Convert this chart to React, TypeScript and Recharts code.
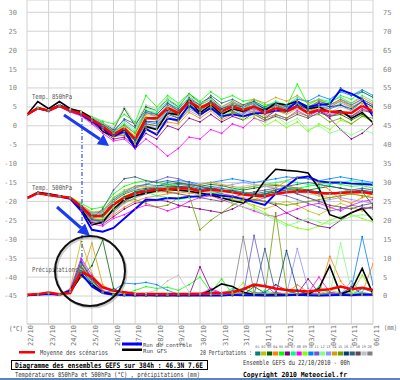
import { LineChart, Line, XAxis, YAxis, CartesianGrid } from "recharts";

// 12h steps from 22/10 00h to 07/11 00h (384h)
const dateLabels = ["22/10", "23/10", "24/10", "25/10", "26/10", "27/10", "28/10", "29/10", "30/10", "31/10", "31/10", "01/11", "02/11", "03/11", "04/11", "05/11", "06/11"];
const dayTicks = [0, 1, 2, 3, 4, 5, 6, 7, 8, 9, 10, 11, 12, 13, 14, 15, 16];
const tempTicks = [-45, -40, -35, -30, -25, -20, -15, -10, -5, 0, 5, 10, 15, 20, 25, 30];
const rainTicks = [0, 5, 10, 15, 20, 25, 30, 35, 40, 45, 50, 55, 60, 65, 70, 75];

const pertColors = ["#008080", "#c0c000", "#006400", "#ff8000", "#00ff00", "#800080", "#00ff80", "#ff00ff", "#80ff00", "#0080ff", "#6a5acd", "#80ff80", "#9090ff", "#d0a000", "#70a000", "#004070", "#306080", "#604858", "#c0c0c0", "#808080"];

// Temp 850hPa (°C)
const t850Mean = [2.9, 4.7, 4.0, 5.3, 4.0, 3.3, 1.6, -0.2, -2.4, -0.6, -3.5, 2.0, 2.0, 4.7, 3.4, 6.4, 4.7, 6.0, 3.8, 5.1, 4.2, 5.1, 3.4, 4.7, 3.8, 5.1, 3.4, 4.2, 3.8, 3.6, 3.4, 5.3, 3.8];
const t850Control = [2.9, 4.7, 4.0, 5.5, 4.2, 3.0, 1.2, -0.8, -2.8, -1.5, -5.9, -0.8, -2.4, 1.9, 1.5, 5.6, 2.9, 4.7, 2.5, 3.0, 2.5, 3.3, 3.4, 4.0, 4.2, 6.4, 5.0, 5.5, 5.8, 9.5, 8.5, 7.0, 2.5];
const t850Gfs = [2.9, 6.4, 4.5, 6.4, 4.5, 3.8, 2.0, -1.5, -2.8, -1.0, -5.5, -0.2, -1.0, 3.4, 2.9, 6.9, 3.4, 5.5, 3.0, 4.5, 3.8, 5.0, 4.0, 6.0, 5.5, 6.5, 4.5, 5.0, 3.5, 4.0, 2.0, 3.5, 0.8];
const t850Pert = [
  [2.9, 4.5, 3.8, 5.5, 4.3, 3.5, 2.0, 0.5, -1.5, 0.2, -2.0, 3.5, 3.0, 6.0, 4.5, 7.5, 5.5, 7.0, 4.5, 6.0, 5.0, 6.5, 4.0, 5.5, 4.5, 6.0, 4.0, 5.0, 4.5, 5.5, 4.0, 6.5, 5.0],
  [2.9, 4.8, 4.2, 5.0, 3.8, 3.0, 1.5, -0.5, -2.5, -1.5, -4.0, 0.5, 0.0, 3.5, 2.5, 5.0, 3.5, 5.5, 3.0, 4.5, 3.5, 4.0, 2.5, 4.0, 3.0, 4.5, 3.5, 5.0, 4.0, 3.0, 2.5, 4.5, 3.0],
  [2.9, 4.4, 4.0, 5.2, 4.2, 3.6, 2.2, 0.8, -1.0, 4.5, 0.0, 5.0, 4.0, 7.0, 5.0, 8.5, 6.0, 7.5, 5.0, 6.5, 5.0, 6.0, 4.5, 5.5, 4.0, 5.5, 3.0, 4.0, 2.5, 3.0, 1.5, 3.0, 1.0],
  [2.9, 4.6, 3.9, 5.3, 3.9, 3.2, 1.0, -1.0, -3.0, -2.0, -5.0, -1.0, -2.0, 1.0, 0.5, 3.5, 2.0, 4.0, 1.5, 3.0, 2.5, 4.0, 3.0, 5.0, 4.5, 6.5, 5.0, 6.0, 5.5, 7.0, 6.0, 7.5, 6.0],
  [2.9, 4.9, 4.1, 5.6, 4.4, 3.8, 2.4, 1.2, 0.5, 3.0, 1.0, 8.0, 5.0, 8.0, 6.0, 8.5, 6.5, 9.0, 7.0, 8.0, 6.5, 7.0, 5.5, 6.0, 5.0, 11.0, 5.5, 7.0, 6.0, 8.0, 7.0, 9.0, 7.5],
  [2.9, 4.7, 4.0, 5.1, 3.7, 2.8, 0.8, -1.5, -3.5, -3.0, -5.5, -2.0, -3.5, 0.0, -1.0, 2.0, 1.0, 3.0, 1.0, 2.5, 1.5, 3.5, 2.0, 4.0, 3.5, 5.0, 3.0, 4.0, 2.0, -1.0, -3.5, -2.0, 0.5],
  [2.9, 4.5, 4.0, 5.4, 4.1, 3.4, 1.8, 0.2, -1.8, 0.5, -1.5, 4.0, 3.5, 6.5, 5.0, 7.0, 5.0, 6.5, 4.0, 5.5, 4.5, 6.0, 5.0, 6.5, 5.5, 7.5, 6.0, 7.0, 6.5, 7.5, 6.0, 8.0, 6.5],
  [2.9, 4.6, 3.8, 5.0, 3.6, 2.6, 0.5, -2.0, -4.0, -3.5, -6.0, -3.5, -5.5, -8.0, -6.0, -3.0, -3.5, -1.0, -2.0, 0.5, -0.5, 2.0, 1.0, 3.0, 2.0, 4.0, 2.5, 4.0, 3.0, 3.5, 2.5, 4.5, 3.5],
  [2.9, 4.8, 4.1, 5.5, 4.2, 3.5, 1.9, 0.0, -2.0, -0.5, -2.5, 2.5, 1.5, 4.5, 3.0, 5.5, 4.0, 5.0, 2.5, 4.0, 1.5, 2.5, 0.0, 1.5, -0.5, 1.0, -1.5, 0.5, -1.0, 1.5, 0.5, 2.5, 1.0],
  [2.9, 4.6, 4.2, 5.3, 4.0, 3.1, 1.4, -0.5, -2.2, -1.0, -3.5, 1.0, 0.5, 3.5, 2.0, 5.0, 3.0, 4.5, 2.0, 3.5, 3.0, 5.5, 4.5, 6.0, 5.5, 7.0, 6.5, 8.0, 7.0, 9.0, 8.0, 9.5, 8.0],
  [2.9, 4.4, 3.9, 5.2, 4.0, 3.3, 1.7, 0.3, -1.2, 1.5, -0.5, 3.5, 2.5, 5.5, 4.0, 6.0, 4.5, 6.5, 4.0, 5.0, 3.5, 4.5, 3.0, 4.0, 3.5, 5.0, 4.5, 6.0, 5.0, 6.5, 5.5, 7.0, 5.5],
  [2.9, 4.7, 4.1, 5.4, 4.3, 3.7, 2.1, 0.6, -1.5, 1.0, -1.0, 4.5, 4.0, 7.5, 6.0, 8.0, 5.5, 7.0, 3.5, 5.0, 2.0, 3.5, 1.0, 2.5, 0.5, 2.0, -1.0, 0.0, -2.0, -1.0, -2.5, -1.0, -2.0],
  [2.9, 4.5, 4.0, 5.2, 3.9, 3.2, 1.5, -0.3, -2.6, -2.0, -4.5, 0.0, -0.5, 2.5, 1.5, 4.0, 2.5, 5.0, 3.0, 4.5, 3.0, 4.0, 3.5, 5.5, 5.0, 6.0, 4.5, 5.5, 4.5, 6.0, 5.0, 6.5, 5.0],
  [2.9, 4.8, 4.0, 5.3, 4.1, 3.4, 1.7, -0.1, -2.0, 0.0, -2.0, 3.0, 2.5, 5.0, 4.0, 6.5, 5.0, 6.5, 4.5, 6.0, 5.5, 7.0, 6.0, 7.5, 6.5, 8.0, 6.0, 7.0, 5.5, 6.5, 5.0, 6.0, 4.5],
  [2.9, 4.6, 3.9, 5.1, 3.8, 3.0, 1.3, -0.7, -2.8, -2.5, -4.5, -0.5, -1.0, 2.0, 1.0, 4.5, 3.0, 5.0, 2.5, 3.5, 2.5, 3.5, 2.0, 3.0, 2.0, 3.5, 2.5, 3.0, 1.0, 2.0, 0.5, 2.5, 2.0],
  [2.9, 4.7, 4.0, 5.3, 4.0, 3.3, 1.6, -0.2, -2.4, -1.2, -3.8, 1.2, 1.0, 4.0, 3.0, 6.0, 4.5, 6.5, 4.5, 5.5, 5.0, 6.0, 4.5, 5.0, 4.0, 5.5, 4.5, 6.0, 5.0, 5.5, 4.5, 6.5, 5.0],
  [2.9, 4.5, 4.1, 5.4, 4.1, 3.5, 2.0, 0.4, -1.6, 1.8, 0.5, 4.0, 3.0, 6.0, 4.0, 7.0, 5.5, 8.0, 6.0, 7.0, 5.5, 6.5, 5.0, 6.0, 5.0, 6.0, 4.5, 6.5, 5.5, 10.0, 8.0, 9.0, 7.5],
  [2.9, 4.6, 4.0, 5.2, 3.9, 3.1, 1.4, -0.6, -2.6, -1.8, -4.0, 0.5, 0.0, 3.0, 2.0, 5.0, 4.0, 6.0, 3.5, 4.0, 2.5, 3.0, 1.5, 2.5, 1.5, 3.0, 2.0, 3.5, 2.5, 3.5, 2.5, 4.0, 3.5],
  [2.9, 4.7, 4.2, 5.5, 4.4, 3.6, 2.2, 0.7, -0.5, 5.0, 0.5, 5.5, 4.5, 7.0, 5.5, 8.0, 6.0, 7.0, 5.0, 6.5, 5.0, 6.0, 4.0, 5.0, 3.5, 4.5, 3.0, 4.5, 3.5, 5.0, 4.0, 5.5, 4.0],
  [2.9, 4.6, 4.0, 5.3, 4.0, 3.2, 1.5, -0.4, -1.8, -0.8, -2.8, 2.0, 1.5, 4.5, 3.0, 6.0, 4.5, 6.0, 4.0, 5.5, 4.5, 5.5, 4.0, 5.5, 4.5, 6.0, 5.0, 6.5, 5.5, 7.0, 5.5, 7.0, 5.5],
];

// Temp 500hPa (°C)
const t500Mean = [-19.1, -17.8, -18.3, -18.7, -19.0, -21.3, -24.0, -23.8, -20.8, -19.0, -17.8, -17.3, -16.9, -16.7, -16.5, -16.6, -17.3, -16.9, -17.2, -17.6, -18.2, -18.5, -18.6, -18.0, -17.6, -17.4, -17.4, -17.8, -17.9, -17.8, -17.6, -17.5, -18.0];
const t500Control = [-19.1, -17.8, -18.2, -18.6, -19.3, -22.5, -27.5, -28.0, -27.0, -24.5, -22.0, -19.5, -19.6, -19.1, -19.2, -18.8, -18.6, -18.0, -18.5, -18.8, -19.4, -20.2, -20.9, -17.9, -16.0, -13.8, -13.4, -14.7, -15.0, -15.0, -15.3, -15.4, -15.6];
const t500Gfs = [-19.1, -17.6, -18.0, -18.5, -19.2, -22.0, -26.2, -25.5, -22.0, -19.5, -18.5, -17.8, -17.2, -16.8, -17.0, -17.3, -17.8, -18.3, -19.0, -19.8, -20.4, -18.5, -14.5, -11.5, -11.8, -12.0, -12.5, -16.5, -23.5, -24.5, -23.0, -21.8, -25.0];
const t500Pert = [
  [-19.1, -17.7, -18.2, -18.6, -19.0, -21.0, -23.5, -23.0, -19.5, -17.5, -16.0, -15.5, -15.8, -16.0, -15.5, -15.8, -16.5, -16.0, -16.5, -17.0, -17.5, -18.0, -17.5, -17.0, -16.5, -16.8, -17.0, -17.5, -18.0, -17.5, -17.0, -17.2, -17.8],
  [-19.1, -17.9, -18.4, -18.8, -19.2, -21.5, -24.5, -25.0, -22.5, -20.5, -19.0, -18.0, -17.5, -17.5, -17.0, -17.3, -18.0, -18.5, -19.0, -19.5, -20.0, -21.0, -22.0, -21.0, -20.0, -21.0, -22.5, -23.5, -22.0, -20.5, -21.5, -22.5, -21.0],
  [-19.1, -17.8, -18.3, -18.7, -19.1, -21.2, -23.8, -23.5, -20.0, -18.0, -17.0, -16.5, -16.0, -15.5, -15.2, -15.5, -16.0, -15.5, -15.8, -16.5, -17.0, -16.5, -16.0, -15.8, -16.0, -16.5, -17.0, -16.5, -16.0, -16.5, -17.0, -17.5, -21.0],
  [-19.1, -17.6, -18.1, -18.5, -19.0, -21.8, -25.0, -25.5, -23.5, -21.5, -20.0, -19.0, -18.5, -18.0, -17.5, -17.8, -18.2, -17.8, -18.0, -18.5, -19.0, -19.5, -18.5, -16.5, -14.5, -13.5, -14.0, -15.0, -17.0, -19.5, -20.5, -19.0, -18.0],
  [-19.1, -17.8, -18.2, -18.6, -18.8, -20.5, -22.0, -21.5, -18.0, -16.0, -15.0, -14.5, -15.0, -15.5, -16.0, -16.5, -17.0, -16.5, -17.0, -17.5, -18.0, -18.5, -18.0, -17.5, -17.0, -16.5, -16.0, -15.5, -15.0, -15.5, -16.0, -15.8, -16.5],
  [-19.1, -17.7, -18.3, -18.8, -19.3, -22.0, -25.5, -26.0, -24.0, -22.0, -20.5, -20.0, -19.5, -20.0, -21.0, -21.5, -22.0, -22.5, -23.0, -22.0, -20.5, -19.5, -20.0, -21.0, -23.0, -24.5, -25.5, -26.5, -27.0, -25.0, -23.0, -22.0, -21.5],
  [-19.1, -17.8, -18.2, -18.7, -19.0, -21.0, -23.0, -22.5, -19.0, -17.5, -17.0, -17.5, -18.5, -19.0, -19.5, -19.0, -18.5, -18.0, -17.5, -17.0, -16.5, -16.0, -15.5, -15.0, -14.5, -15.0, -15.5, -16.0, -15.5, -15.0, -14.5, -15.0, -15.5],
  [-19.1, -17.9, -18.4, -18.9, -19.4, -22.5, -26.0, -26.5, -24.5, -23.5, -22.0, -21.0, -21.5, -22.5, -21.5, -20.0, -19.0, -18.5, -19.5, -20.5, -21.5, -22.5, -23.5, -24.0, -23.0, -22.0, -21.0, -20.5, -21.5, -22.5, -21.0, -20.0, -19.5],
  [-19.1, -17.7, -18.2, -18.6, -19.0, -21.2, -24.0, -23.8, -20.5, -18.5, -17.5, -17.0, -16.5, -16.0, -16.2, -16.5, -17.0, -17.5, -18.0, -19.0, -20.0, -21.5, -23.0, -24.5, -26.0, -27.0, -27.5, -26.5, -25.0, -24.0, -23.5, -24.5, -25.5],
  [-19.1, -17.8, -18.3, -18.7, -19.1, -21.5, -24.8, -25.5, -22.0, -19.5, -18.0, -17.0, -16.0, -15.0, -14.5, -14.8, -15.5, -15.0, -14.5, -14.0, -14.5, -15.0, -14.5, -14.0, -13.5, -13.8, -14.0, -14.5, -14.0, -13.5, -14.0, -14.5, -15.0],
  [-19.1, -17.6, -18.1, -18.6, -19.0, -21.0, -23.2, -22.8, -19.8, -17.8, -16.5, -15.5, -14.5, -13.5, -14.0, -15.0, -16.0, -17.0, -18.0, -18.5, -19.5, -20.0, -19.0, -18.0, -18.5, -19.5, -20.5, -21.5, -22.5, -22.0, -21.0, -21.5, -22.0],
  [-19.1, -17.8, -18.2, -18.7, -19.1, -21.3, -24.2, -24.5, -21.5, -19.5, -18.5, -18.0, -17.5, -17.0, -16.8, -17.0, -17.5, -18.0, -19.0, -20.5, -21.5, -22.0, -23.5, -25.0, -26.5, -25.5, -24.5, -25.5, -26.0, -25.0, -24.0, -23.5, -24.0],
  [-19.1, -17.7, -18.2, -18.6, -19.1, -21.6, -25.2, -25.8, -23.0, -20.5, -19.0, -18.0, -17.0, -16.5, -16.0, -16.5, -17.0, -16.5, -16.0, -15.5, -15.0, -15.5, -16.0, -16.5, -17.0, -18.0, -19.0, -20.0, -19.5, -19.0, -19.5, -20.0, -20.5],
  [-19.1, -17.8, -18.3, -18.7, -19.0, -20.8, -22.8, -22.5, -19.0, -17.0, -16.0, -16.0, -16.5, -17.0, -16.5, -16.0, -15.5, -15.0, -15.5, -16.0, -16.5, -16.0, -15.5, -15.5, -16.0, -16.5, -17.5, -18.5, -19.0, -18.5, -18.0, -18.5, -19.0],
  [-19.1, -17.9, -18.4, -18.8, -19.3, -21.8, -24.6, -24.8, -22.0, -20.0, -19.5, -20.5, -21.5, -21.0, -19.0, -18.5, -27.5, -25.0, -23.0, -21.0, -19.5, -19.5, -20.0, -20.5, -21.0, -20.5, -20.0, -19.5, -19.0, -18.5, -18.0, -18.5, -19.0],
  [-19.1, -17.7, -18.2, -18.6, -19.0, -21.1, -23.6, -23.8, -21.0, -18.8, -17.5, -16.8, -16.5, -16.2, -16.0, -16.2, -16.8, -16.5, -16.8, -17.2, -17.8, -18.2, -18.0, -17.5, -17.0, -17.0, -17.2, -17.5, -17.8, -17.5, -17.2, -17.0, -17.5],
  [-19.1, -17.8, -18.3, -18.7, -19.2, -21.4, -24.4, -22.0, -17.0, -14.0, -13.5, -14.5, -15.0, -14.5, -15.0, -15.5, -16.0, -16.5, -17.0, -17.5, -18.0, -18.5, -18.0, -17.0, -16.0, -15.5, -15.0, -15.5, -16.0, -16.5, -17.0, -16.5, -17.0],
  [-19.1, -17.6, -18.2, -18.7, -19.2, -21.7, -24.8, -25.2, -22.5, -20.0, -18.5, -17.5, -17.0, -17.5, -18.0, -18.5, -19.0, -19.5, -20.0, -19.0, -18.0, -17.5, -17.0, -16.5, -17.0, -18.0, -19.0, -20.0, -21.0, -21.5, -22.0, -21.0, -20.5],
  [-19.1, -17.8, -18.2, -18.6, -19.0, -20.9, -23.3, -23.0, -19.8, -17.8, -16.8, -16.2, -16.0, -16.5, -17.0, -17.5, -18.0, -17.5, -17.0, -16.5, -16.0, -15.5, -16.0, -16.5, -17.0, -17.5, -18.0, -18.5, -18.0, -17.5, -17.0, -17.5, -18.0],
  [-19.1, -17.7, -18.3, -18.7, -19.1, -21.2, -23.9, -24.2, -21.2, -19.0, -17.8, -17.0, -16.8, -16.5, -16.5, -16.8, -17.2, -17.0, -17.2, -17.5, -18.0, -18.5, -18.5, -18.0, -17.5, -17.5, -17.5, -18.0, -18.0, -17.8, -17.5, -17.5, -18.0],
];

// Précipitations (mm)
const rainMean = [0.3, 0.5, 0.9, 0.5, 0.8, 6.5, 5.0, 2.3, 1.4, 1.0, 0.6, 0.5, 0.5, 0.5, 0.5, 0.5, 0.6, 0.7, 0.8, 1.0, 1.8, 3.0, 2.6, 2.0, 1.6, 1.4, 1.2, 1.5, 1.8, 2.5, 1.8, 2.2, 1.6];
const rainControl = [0.2, 0.3, 0.5, 0.3, 1.5, 6.0, 2.5, 0.8, 0.3, 0.2, 0.2, 0.2, 0.1, 0.1, 0.1, 0.1, 0.2, 0.1, 0.1, 0.3, 0.2, 0.2, 0.1, 0.1, 0.2, 0.3, 0.2, 0.1, 0.2, 0.3, 0.2, 0.4, 0.3];
const rainGfs = [0.2, 0.4, 0.8, 0.4, 1.0, 5.5, 3.0, 1.0, 0.5, 0.3, 0.2, 0.2, 0.2, 0.3, 0.2, 0.2, 0.3, 1.5, 3.2, 2.5, 1.0, 0.4, 0.2, 0.3, 0.2, 0.3, 0.5, 2.0, 8.0, 0.5, 1.5, 7.3, 0.5];
const rainPert = [
  [0.2, 0.4, 0.8, 0.3, 1.2, 7.0, 4.0, 1.0, 0.3, 0.2, 0.1, 0.2, 0.1, 0.3, 0.5, 0.2, 0.4, 1.0, 0.3, 0.5, 2.0, 0.8, 0.3, 0.2, 0.5, 1.5, 0.4, 0.3, 1.0, 0.5, 0.3, 2.0, 1.0],
  [0.3, 0.5, 1.0, 0.4, 2.0, 14.5, 6.0, 1.5, 0.5, 0.2, 0.1, 0.1, 0.2, 0.1, 0.2, 0.3, 0.1, 0.2, 0.5, 1.0, 0.5, 0.3, 0.4, 0.2, 0.6, 0.4, 0.2, 0.5, 1.5, 0.8, 0.4, 0.3, 0.6],
  [0.2, 0.3, 0.6, 0.3, 1.0, 5.0, 8.0, 14.8, 2.0, 0.5, 0.3, 0.2, 0.1, 0.2, 0.1, 0.2, 0.3, 0.5, 0.2, 0.1, 0.3, 2.5, 0.8, 0.5, 0.2, 0.4, 0.3, 0.2, 0.5, 0.3, 0.2, 0.4, 0.3],
  [0.2, 0.4, 0.9, 0.4, 1.5, 8.0, 4.5, 1.2, 0.4, 0.2, 0.2, 0.1, 0.2, 0.3, 0.2, 0.1, 0.2, 0.3, 0.5, 0.4, 0.3, 1.0, 0.5, 0.4, 0.8, 3.0, 1.0, 0.5, 10.5, 4.0, 0.5, 0.8, 8.5],
  [0.1, 0.3, 0.7, 0.3, 1.0, 6.5, 3.5, 0.8, 0.3, 0.5, 1.5, 2.5, 2.0, 2.3, 1.5, 3.0, 5.0, 1.0, 4.5, 0.5, 0.3, 0.8, 0.5, 0.2, 0.3, 0.5, 0.4, 0.2, 0.3, 0.5, 0.8, 0.4, 0.3],
  [0.2, 0.4, 0.8, 0.3, 1.3, 9.0, 4.5, 1.0, 0.4, 0.2, 0.1, 0.2, 0.3, 0.2, 0.1, 0.2, 7.7, 1.5, 0.8, 0.4, 0.3, 0.5, 1.0, 3.0, 1.5, 0.6, 4.5, 0.8, 0.4, 0.3, 2.5, 0.5, 0.4],
  [0.2, 0.3, 0.7, 0.2, 1.1, 7.5, 3.8, 0.9, 0.3, 0.2, 0.3, 0.2, 0.1, 0.2, 0.3, 0.5, 0.4, 1.2, 0.5, 2.0, 0.6, 0.4, 1.5, 0.5, 0.3, 0.6, 0.4, 2.5, 0.8, 0.4, 0.6, 1.0, 0.5],
  [0.3, 0.5, 1.0, 0.4, 1.8, 10.0, 5.5, 1.4, 0.5, 0.3, 0.2, 0.1, 0.2, 0.1, 0.2, 0.3, 0.5, 2.0, 0.8, 0.3, 0.5, 0.4, 0.3, 1.0, 0.5, 0.3, 0.8, 5.0, 1.0, 0.5, 0.3, 0.4, 0.6],
  [0.2, 0.4, 0.8, 0.3, 1.2, 8.5, 4.2, 1.0, 0.3, 0.2, 0.1, 0.2, 0.3, 0.5, 0.3, 0.2, 0.3, 0.6, 0.4, 0.3, 3.5, 1.0, 0.5, 0.8, 0.4, 0.6, 0.3, 0.5, 0.4, 0.3, 0.6, 5.5, 1.0],
  [0.1, 0.3, 0.6, 0.2, 1.0, 6.0, 3.0, 0.8, 1.5, 3.4, 3.2, 3.6, 3.0, 1.5, 0.5, 0.3, 0.4, 0.8, 0.5, 0.3, 0.6, 0.4, 0.8, 0.5, 0.3, 0.4, 0.5, 0.6, 0.4, 0.8, 2.0, 15.7, 3.0],
  [0.2, 0.4, 0.9, 0.3, 1.4, 9.5, 4.8, 1.1, 0.4, 0.2, 0.1, 0.2, 0.1, 0.2, 0.3, 0.2, 0.5, 0.6, 0.3, 1.5, 0.5, 16.0, 3.0, 0.5, 0.3, 0.6, 0.4, 0.3, 0.5, 0.8, 0.4, 0.6, 0.5],
  [0.2, 0.3, 0.7, 0.3, 1.1, 7.2, 3.6, 0.9, 0.3, 0.2, 0.2, 0.5, 0.3, 0.2, 0.5, 0.4, 0.6, 0.3, 0.8, 0.5, 0.4, 0.3, 0.6, 0.4, 0.5, 0.3, 0.4, 0.6, 0.5, 14.0, 1.5, 0.5, 0.4],
  [0.2, 0.4, 0.8, 0.3, 1.3, 8.0, 4.0, 1.0, 0.3, 0.2, 0.1, 0.1, 0.2, 0.3, 0.2, 0.1, 0.3, 0.4, 0.6, 0.4, 0.3, 0.5, 0.4, 0.6, 0.5, 12.5, 2.0, 0.5, 0.4, 0.3, 4.0, 0.8, 0.5],
  [0.3, 0.5, 1.0, 0.4, 1.6, 5.0, 14.0, 3.0, 0.6, 0.3, 0.2, 0.1, 0.2, 0.1, 0.3, 0.2, 0.4, 0.5, 0.3, 0.6, 0.4, 0.5, 0.3, 0.8, 0.5, 0.4, 0.6, 0.5, 0.4, 0.3, 0.5, 0.4, 0.6],
  [0.2, 0.4, 0.8, 0.3, 1.2, 7.8, 4.2, 1.0, 0.4, 0.2, 0.1, 0.2, 0.1, 0.2, 0.1, 0.3, 0.5, 0.4, 0.3, 0.5, 0.8, 0.6, 0.4, 22.0, 2.0, 0.5, 0.3, 0.4, 0.5, 0.3, 0.4, 0.6, 0.4],
  [0.2, 0.3, 0.7, 0.3, 1.0, 6.8, 3.4, 0.8, 0.3, 0.2, 0.1, 0.1, 0.2, 0.1, 0.2, 0.3, 0.2, 0.3, 0.5, 0.4, 0.3, 0.5, 0.4, 0.3, 12.0, 1.5, 0.5, 0.3, 0.4, 0.5, 0.3, 0.4, 0.5],
  [0.2, 0.4, 0.9, 0.3, 1.3, 8.8, 4.5, 1.1, 0.4, 0.2, 0.2, 0.1, 0.1, 0.2, 0.1, 0.2, 0.3, 0.4, 0.3, 0.5, 0.4, 0.3, 12.5, 0.8, 0.4, 0.3, 0.5, 0.4, 0.3, 0.6, 0.4, 0.5, 0.4],
  [0.2, 0.4, 0.8, 0.3, 1.2, 7.6, 4.1, 1.0, 0.3, 0.2, 0.1, 0.2, 0.1, 0.1, 0.2, 0.1, 0.3, 0.2, 0.4, 0.3, 0.5, 0.4, 0.3, 0.5, 0.4, 0.3, 0.6, 0.4, 0.5, 0.3, 0.4, 0.3, 0.5],
  [0.2, 0.3, 0.7, 0.3, 1.1, 7.0, 3.9, 0.9, 0.3, 0.4, 0.6, 0.8, 1.5, 4.0, 5.5, 1.0, 0.5, 0.4, 0.3, 0.5, 0.4, 0.6, 0.3, 0.4, 0.5, 0.3, 0.4, 0.5, 0.3, 0.4, 0.6, 0.4, 0.5],
  [0.2, 0.4, 0.8, 0.3, 1.2, 7.4, 4.0, 1.0, 0.3, 0.2, 0.1, 0.2, 0.3, 0.2, 0.4, 0.3, 0.5, 0.8, 0.6, 0.4, 15.7, 1.0, 0.5, 0.4, 0.3, 0.5, 0.4, 0.3, 0.6, 0.5, 0.4, 0.3, 0.5],
];

const rows = t850Mean.map((_, i) => {
  const row: Record<string, number> = {
    t: i / 2,
    m850: t850Mean[i], c850: t850Control[i], g850: t850Gfs[i],
    m500: t500Mean[i], c500: t500Control[i], g500: t500Gfs[i],
    mr: rainMean[i], cr: rainControl[i], gr: rainGfs[i],
  };
  for (let k = 0; k < 20; k++) {
    row["a" + k] = t850Pert[k][i];
    row["b" + k] = t500Pert[k][i];
    row["r" + k] = rainPert[k][i];
  }
  return row;
});

const mono = "DejaVu Sans Mono";
const tickStyle = { fontSize: 7, fill: "#888", fontFamily: mono };

function DateTick({ x, y, payload }: any) {
  return (
    <text transform={`translate(${x + 6},${y + 1}) rotate(-90)`} textAnchor="end" fontSize={7} fill="#777" fontFamily={mono}>
      {dateLabels[payload.value]}
    </text>
  );
}

function Txt({ x, y, w, children, bold, size = 7, fill = "#444" }: any) {
  return (
    <text x={x} y={y} textLength={w} lengthAdjust="spacingAndGlyphs" fontSize={size} fill={fill} fontFamily={mono} fontWeight={bold ? "bold" : "normal"}>
      {children}
    </text>
  );
}

export default function App() {
  const pertLines: any[] = [];
  ["a", "b", "r"].forEach((p) => {
    pertColors.forEach((c, k) => {
      pertLines.push(
        <Line key={p + k} yAxisId={p === "r" ? "p" : "t"} dataKey={p + k} type="linear" stroke={c} strokeWidth={0.8}
          dot={{ r: 0.9, fill: c, stroke: "none" }} activeDot={false} isAnimationActive={false} />
      );
    });
  });

  return (
    <div style={{ position: "absolute", left: 0, top: 0, width: 400, height: 380, background: "#fff", overflow: "hidden" }}>
      <LineChart width={400} height={380} data={rows} margin={{ top: 0, right: 0, left: 0, bottom: 26 }}>
        <CartesianGrid yAxisId="t" stroke="#d2d2d2" strokeWidth={1} />
        <XAxis dataKey="t" type="number" domain={[0, 16]} ticks={dayTicks} interval={0} height={30} allowDataOverflow
          tickSize={0} tickMargin={0} tickLine={false} axisLine={{ stroke: "#c8c8c8" }} tick={<DateTick />} />
        <YAxis yAxisId="t" orientation="left" width={27} type="number" domain={[-52.4, 33.25]} ticks={tempTicks} interval={0}
          allowDataOverflow axisLine={false} tickLine={false} tickSize={4} tickMargin={6} tick={tickStyle} />
        <YAxis yAxisId="p" orientation="right" width={27} type="number" domain={[-7.4, 78.25]} ticks={rainTicks} interval={0}
          allowDataOverflow axisLine={false} tickLine={false} tickSize={4} tickMargin={6} tick={tickStyle} />
        {pertLines}
        <Line yAxisId="t" dataKey="g850" stroke="#000" strokeWidth={1.6} dot={false} activeDot={false} isAnimationActive={false} />
        <Line yAxisId="t" dataKey="g500" stroke="#000" strokeWidth={1.6} dot={false} activeDot={false} isAnimationActive={false} />
        <Line yAxisId="p" dataKey="gr" stroke="#000" strokeWidth={1.6} dot={false} activeDot={false} isAnimationActive={false} />
        <Line yAxisId="t" dataKey="c850" stroke="#0000ff" strokeWidth={1.9} dot={false} activeDot={false} isAnimationActive={false} />
        <Line yAxisId="t" dataKey="c500" stroke="#0000ff" strokeWidth={1.9} dot={false} activeDot={false} isAnimationActive={false} />
        <Line yAxisId="p" dataKey="cr" stroke="#0000ff" strokeWidth={1.9} dot={false} activeDot={false} isAnimationActive={false} />
        <Line yAxisId="t" dataKey="m850" stroke="#ff0000" strokeWidth={2.5} dot={false} activeDot={false} isAnimationActive={false} />
        <Line yAxisId="t" dataKey="m500" stroke="#ff0000" strokeWidth={2.5} dot={false} activeDot={false} isAnimationActive={false} />
        <Line yAxisId="p" dataKey="mr" stroke="#ff0000" strokeWidth={2.5} dot={false} activeDot={false} isAnimationActive={false} />
      </LineChart>

      <svg width={400} height={380} style={{ position: "absolute", left: 0, top: 0, pointerEvents: "none" }}>
        <Txt x={32} y={99} w={40} fill="#555">Temp. 850hPa</Txt>
        <Txt x={32} y={190} w={40} fill="#555">Temp. 500hPa</Txt>
        <Txt x={32} y={272} w={46} fill="#555">Précipitations</Txt>
        <Txt x={9} y={331} w={14} fill="#666">(°C)</Txt>
        <Txt x={384} y={330} w={13} fill="#666">(mm)</Txt>

        {/* annotations drawn over the picture */}
        <line x1={82} y1={118} x2={82} y2={272} stroke="#3050ff" strokeWidth={1.2} strokeDasharray="4 2 1 2" />
        <line x1={64} y1={115} x2={100} y2={139.3} stroke="#1a3cf0" strokeWidth={3} />
        <polygon points="109,146 96.7,144.3 103.4,134.3" fill="#1a3cf0" />
        <line x1={57} y1={207} x2={81} y2={228} stroke="#1a3cf0" strokeWidth={3} />
        <polygon points="90,236 77,232.6 85,223.6" fill="#1a3cf0" />
        <circle cx={91.5} cy={272.5} r={35} fill="none" stroke="#999" strokeWidth={2} opacity={0.5} />
        <circle cx={90} cy={271} r={35} fill="none" stroke="#111" strokeWidth={2} />

        {/* legend */}
        <rect x={19} y={351} width={16} height={2.5} fill="#ff0000" />
        <Txt x={40} y={355} w={68}>Moyenne des scénarios</Txt>
        <rect x={122} y={342.5} width={20} height={3} fill="#0000ff" />
        <Txt x={143} y={346.5} w={49} size={5.5}>Run de controle</Txt>
        <rect x={122} y={348.5} width={20} height={2.5} fill="#000" />
        <Txt x={143} y={353} w={24} size={5.5}>Run GFS</Txt>
        <Txt x={200} y={355} w={52}>20 Perturbations :</Txt>
        {pertColors.map((c, k) => (
          <g key={c}>
            <text x={257.5 + k * 5.9} y={348} fontSize={3.6} textAnchor="middle" fill="#666" fontFamily={mono}>
              {String(k + 1).padStart(2, "0")}
            </text>
            <rect x={255.2 + k * 5.9} y={351.5} width={5.2} height={4} fill={c} />
          </g>
        ))}

        {/* footer */}
        <rect x={11.5} y={360.5} width={196} height={9} fill="none" stroke="#000" strokeWidth={1} />
        <Txt x={15} y={368} w={188} bold size={7.5} fill="#000">Diagramme des ensembles GEFS sur 384h : 46.3N 7.6E</Txt>
        <Txt x={15} y={377} w={185} fill="#333">Températures 850hPa et 500hPa (°C) , précipitations (mm)</Txt>
        <Txt x={243} y={364.5} w={107} fill="#333">Ensemble GEFS du 22/10/2010 - 00h</Txt>
        <Txt x={243} y={377} w={104} bold fill="#000">Copyright 2010 Meteociel.fr</Txt>
        <rect x={0} y={378} width={400} height={2} fill="#5b84b8" />
      </svg>
    </div>
  );
}
